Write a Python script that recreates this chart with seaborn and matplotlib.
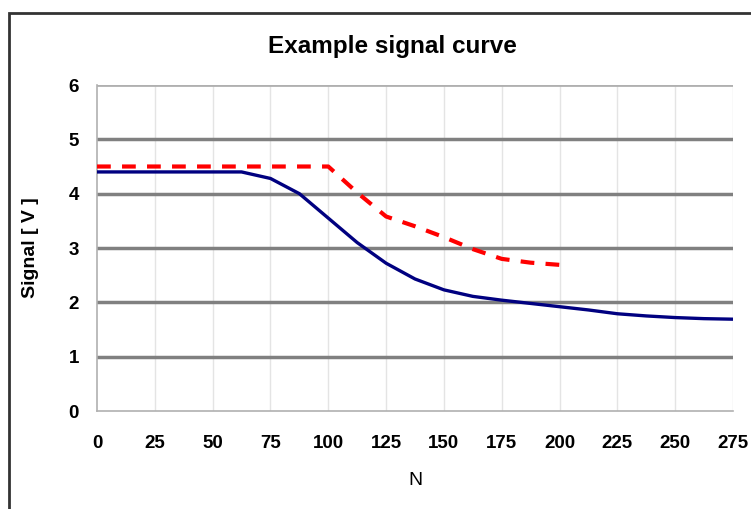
import numpy as np
import pandas as pd
import seaborn as sns
import matplotlib.pyplot as plt
from matplotlib.patches import Rectangle

# values
n_blue = [0, 12.5, 25, 37.5, 50, 62.5, 75, 87.5, 100, 112.5, 125, 137.5, 150,
          162.5, 175, 187.5, 200, 212.5, 225, 237.5, 250, 262.5, 275]
signal_blue = [4.4, 4.4, 4.4, 4.4, 4.4, 4.4, 4.28, 4.0, 3.55, 3.1, 2.72, 2.43, 2.23,
               2.11, 2.04, 1.98, 1.92, 1.86, 1.79, 1.75, 1.72, 1.70, 1.69]

n_red = [0, 12.5, 25, 37.5, 50, 62.5, 75, 87.5, 100, 112.5, 125, 137.5, 150,
         162.5, 175, 187.5, 200]
signal_red = [4.5, 4.5, 4.5, 4.5, 4.5, 4.5, 4.5, 4.5, 4.5, 4.02, 3.58, 3.4, 3.2,
              2.98, 2.8, 2.73, 2.69]

x_ticks = list(range(0, 276, 25))
y_ticks = [0, 1, 2, 3, 4, 5, 6]

sns.set_style("white")
plt.rcParams["font.family"] = ["Liberation Sans", "DejaVu Sans"]
plt.rcParams["text.color"] = "black"
plt.rcParams["axes.labelcolor"] = "black"

blue = pd.DataFrame({"N": n_blue, "Signal": signal_blue})
red = pd.DataFrame({"N": n_red, "Signal": signal_red})

fig = plt.figure(figsize=(7.51, 5.09), dpi=100)
ax = fig.add_axes([0.1292, 0.1925, 0.8468, 0.6405])

# chart frame (cropped on the right and bottom in the reference)
fig.patches.append(Rectangle((0.012, -0.1), 1.2, 1.074, transform=fig.transFigure,
                             fill=False, edgecolor="#333333", linewidth=2))

# grid
for x in x_ticks[1:]:
    ax.axvline(x, color="#e4e4e4", linewidth=1, zorder=0)
for y in y_ticks[1:-1]:
    ax.axhline(y, color="#808080", linewidth=2.5, zorder=1)
ax.axhline(6, color="#b0b0b0", linewidth=2, zorder=1)

sns.lineplot(data=red, x="N", y="Signal", ax=ax, color="#ff0000", linewidth=3,
             zorder=3, errorbar=None)
ax.lines[-1].set_dashes([3.3, 2.7])
sns.lineplot(data=blue, x="N", y="Signal", ax=ax, color="#000080", linewidth=2.4,
             zorder=4, errorbar=None)

ax.set_xlim(0, 275)
ax.set_ylim(0, 6)
ax.set_xticks(x_ticks)
ax.set_yticks(y_ticks)
for sp in ["top", "right"]:
    ax.spines[sp].set_visible(False)
for sp in ["left", "bottom"]:
    ax.spines[sp].set_color("#b0b0b0")
    ax.spines[sp].set_linewidth(1.2)
ax.tick_params(axis="both", direction="out", length=5, color="#b0b0b0", width=1.2,
               labelsize=13.5, labelcolor="black")
ax.tick_params(axis="x", pad=12)
ax.tick_params(axis="y", pad=8)
for t in ax.get_xticklabels() + ax.get_yticklabels():
    t.set_fontweight("bold")

ax.set_xlabel("N", fontsize=14, labelpad=15)
ax.set_ylabel("Signal [ V ]", fontsize=14, fontweight="bold", labelpad=21)
fig.text(0.523, 0.908, "Example signal curve", ha="center", va="center",
         fontsize=17.5, fontweight="bold")

fig.savefig("out.png", dpi=100)
